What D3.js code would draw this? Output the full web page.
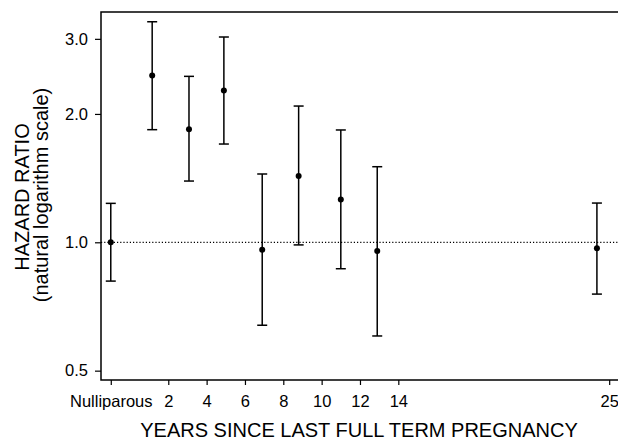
<!DOCTYPE html>
<html>
<head>
<meta charset="utf-8">
<script src="https://cdn.jsdelivr.net/npm/d3@7"></script>
<style>
  body { margin: 0; background: #fff; }
  text { font-family: "Liberation Sans", Arial, sans-serif; fill: #000; }
</style>
</head>
<body>
<svg id="chart" width="618" height="440"></svg>
<script>
// estimates (x position in years, Nulliparous placed at -1)
const groups = ["Nulliparous", "0-2", "2-4", "4-6", "6-8", "8-10", "10-12", "12-14", "14+"];
const xPos = [-1, 1.16, 3.08, 4.9, 6.9, 8.8, 11.0, 12.9, 24.36];
const hr = [1.0, 2.46, 1.84, 2.27, 0.96, 1.43, 1.26, 0.954, 0.968];
const lower = [0.811, 1.837, 1.392, 1.70, 0.639, 0.986, 0.867, 0.603, 0.756];
const upper = [1.234, 3.29, 2.45, 3.03, 1.446, 2.087, 1.834, 1.504, 1.236];

const xTickVals = [-1, 2, 4, 6, 8, 10, 12, 14, 25];
const xTickLabels = ["Nulliparous", "2", "4", "6", "8", "10", "12", "14", "25"];
const yTickVals = [0.5, 1.0, 2.0, 3.0];

const svg = d3.select("#chart");
const plotLeft = 101, plotTop = 12, plotRight = 618, plotBottom = 380;

const x = d3.scaleLinear().domain([-1.51, 25.46]).range([plotLeft, plotRight]);
const y = d3.scaleLog().domain([0.4754, 3.468]).range([plotBottom, plotTop]);

// y axis
const yAxis = d3.axisLeft(y).tickValues(yTickVals).tickFormat(d3.format(".1f")).tickSize(6).tickPadding(7);
const gy = svg.append("g").attr("transform", `translate(${plotLeft},0)`).call(yAxis);
gy.select(".domain").remove();
gy.selectAll(".tick line").attr("stroke", "#000").attr("stroke-width", 1.2);
gy.selectAll(".tick text").style("font-size", "16.5px").style("font-family", "Liberation Sans, Arial, sans-serif");

// x axis
const xAxis = d3.axisBottom(x).tickValues(xTickVals).tickFormat((d, i) => xTickLabels[i]).tickSize(5).tickPadding(10);
const gx = svg.append("g").attr("transform", `translate(0,${plotBottom})`).call(xAxis);
gx.select(".domain").remove();
gx.selectAll(".tick line").attr("stroke", "#000").attr("stroke-width", 1.2);
gx.selectAll(".tick text").style("font-size", "16.5px").style("font-family", "Liberation Sans, Arial, sans-serif");

// frame: left, top, bottom
svg.append("path")
  .attr("d", `M${plotRight},${plotTop}H${plotLeft}V${plotBottom}H${plotRight}`)
  .attr("fill", "none").attr("stroke", "#000").attr("stroke-width", 1.5);

// reference line at 1
svg.append("line")
  .attr("x1", plotLeft).attr("x2", plotRight)
  .attr("y1", y(1)).attr("y2", y(1))
  .attr("stroke", "#000").attr("stroke-width", 1.2)
  .attr("stroke-dasharray", "1.2,2");

// error bars
const cap = 5;
const bars = svg.append("g").selectAll("g").data(groups).join("g");
bars.append("line")
  .attr("x1", (d, i) => x(xPos[i])).attr("x2", (d, i) => x(xPos[i]))
  .attr("y1", (d, i) => y(lower[i])).attr("y2", (d, i) => y(upper[i]))
  .attr("stroke", "#000").attr("stroke-width", 1.5);
bars.append("line")
  .attr("x1", (d, i) => x(xPos[i]) - cap).attr("x2", (d, i) => x(xPos[i]) + cap)
  .attr("y1", (d, i) => y(upper[i])).attr("y2", (d, i) => y(upper[i]))
  .attr("stroke", "#000").attr("stroke-width", 1.5);
bars.append("line")
  .attr("x1", (d, i) => x(xPos[i]) - cap).attr("x2", (d, i) => x(xPos[i]) + cap)
  .attr("y1", (d, i) => y(lower[i])).attr("y2", (d, i) => y(lower[i]))
  .attr("stroke", "#000").attr("stroke-width", 1.5);
bars.append("circle")
  .attr("cx", (d, i) => x(xPos[i])).attr("cy", (d, i) => y(hr[i]))
  .attr("r", 3).attr("fill", "#000");

// titles
svg.append("text")
  .attr("transform", `translate(29,197) rotate(-90)`)
  .attr("text-anchor", "middle")
  .style("font-size", "20px")
  .text("HAZARD RATIO");
svg.append("text")
  .attr("transform", `translate(48,195) rotate(-90)`)
  .attr("text-anchor", "middle")
  .style("font-size", "20px")
  .text("(natural logarithm scale)");
svg.append("text")
  .attr("x", 359).attr("y", 437)
  .attr("text-anchor", "middle")
  .style("font-size", "20px")
  .text("YEARS SINCE LAST FULL TERM PREGNANCY");
</script>
</body>
</html>
